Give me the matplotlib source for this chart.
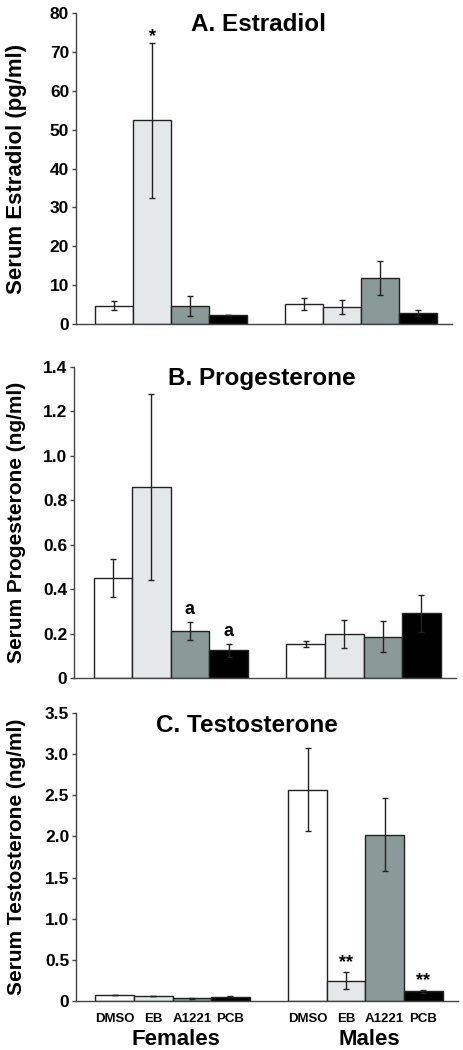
import matplotlib.pyplot as plt
import numpy as np

plt.rcParams['font.family'] = ['Liberation Sans', 'DejaVu Sans']
plt.rcParams['font.weight'] = 'bold'

treatments = ['DMSO', 'EB', 'A1221', 'PCB']
sexes = ['Females', 'Males']
colors = ['#ffffff', '#e4e8e8', '#8a9a98', '#000000']

# Estradiol (pg/ml): females then males
e2_mean = [4.7, 52.4, 4.6, 2.2, 5.2, 4.3, 11.9, 2.9]
e2_err = [1.2, 19.9, 2.6, 0.0, 1.5, 1.8, 4.4, 0.8]

# Progesterone (ng/ml)
p4_mean = [0.449, 0.860, 0.212, 0.125, 0.152, 0.200, 0.186, 0.291]
p4_err = [0.086, 0.418, 0.039, 0.030, 0.014, 0.063, 0.070, 0.083]

# Testosterone (ng/ml)
t_mean = [0.073, 0.061, 0.032, 0.053, 2.569, 0.247, 2.022, 0.118]
t_err = [0.004, 0.004, 0.004, 0.004, 0.505, 0.100, 0.440, 0.020]

# bar centres (width 1), males offset after a gap
xpos = np.array([0, 1, 2, 3, 5.0, 6.0, 7.0, 8.0])

panels = [
    ('A. Estradiol', 'Serum Estradiol (pg/ml)', e2_mean, e2_err,
     (0, 80), np.arange(0, 81, 10), ['%d' % v for v in range(0, 81, 10)],
     [(1, 74.0, '*')], [0.164, 0.6914, 0.810, 0.2962], (0.485, 0.962), 16),
    ('B. Progesterone', 'Serum Progesterone (ng/ml)', p4_mean, p4_err,
     (0, 1.4), np.arange(0, 1.41, 0.2),
     ['0', '0.2', '0.4', '0.6', '0.8', '1.0', '1.2', '1.4'],
     [(2, 0.31, 'a'), (3, 0.21, 'a')], [0.160, 0.3543, 0.823, 0.2962], (0.49, 0.962), 15),
    ('C. Testosterone', 'Serum Testosterone (ng/ml)', t_mean, t_err,
     (0, 3.5), np.arange(0, 3.51, 0.5),
     ['0', '0.5', '1.0', '1.5', '2.0', '2.5', '3.0', '3.5'],
     [(5, 0.47, '**'), (7, 0.25, '**')], [0.164, 0.0467, 0.823, 0.2743], (0.447, 0.955), 15),
]

fig = plt.figure(figsize=(4.64, 10.5), dpi=100)

for title, ylab, mean, err, ylim, yt, ytl, notes, rect, tpos, ylfs in panels:
    ax = fig.add_axes(rect)
    ax.bar(xpos, mean, width=1.0, color=colors * 2, edgecolor='#222222',
           linewidth=1.0, zorder=2)
    ax.errorbar(xpos, mean, yerr=err, fmt='none', ecolor='#222222',
                elinewidth=1.0, capsize=2, capthick=1.0, zorder=3)
    for i, yv, txt in notes:
        ax.text(xpos[i], yv, txt, ha='center', va='center', fontsize=13,
                fontweight='bold')
    ax.set_xlim(-1.0, 8.9)
    ax.set_ylim(*ylim)
    ax.set_yticks(yt)
    ax.set_yticklabels(ytl, fontsize=12.5, fontweight='bold')
    fig.text(17 / 464, rect[1] + rect[3] / 2, ylab, rotation=90, ha='center',
             va='center', fontsize=ylfs, fontweight='bold')
    ax.text(tpos[0], tpos[1], title, transform=ax.transAxes, ha='center',
            va='center', fontsize=17.5, fontweight='bold')
    for s in ['top', 'right']:
        ax.spines[s].set_visible(False)
    for s in ['left', 'bottom']:
        ax.spines[s].set_color('#444444')
        ax.spines[s].set_linewidth(1.0)
    ax.tick_params(axis='y', length=3, width=1, color='#444444', pad=2)
    ax.set_xticks([])

# category labels on bottom panel
ax.set_xticks(xpos)
ax.set_xticklabels(treatments * 2, fontsize=9.5, fontweight='bold')
ax.tick_params(axis='x', length=0, pad=9)
for k, sex in enumerate(sexes):
    ax.text(xpos[4 * k:4 * k + 4].mean() + 0.1, -0.098, sex,
            transform=ax.get_xaxis_transform(),
            ha='center', va='top', fontsize=16, fontweight='bold')

fig.savefig('out.png', dpi=100)
